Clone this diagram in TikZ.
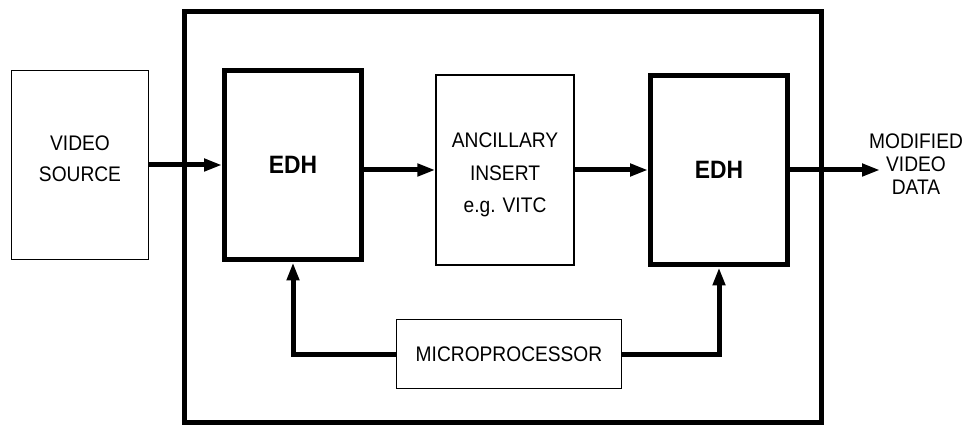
\documentclass[tikz,border=0pt]{standalone}
\usepackage{fontspec}
\setmainfont[FakeStretch=0.91]{Liberation Sans}
\usetikzlibrary{arrows.meta}

\begin{document}
\begin{tikzpicture}[
  x=0.02cm, y=-0.02cm,
  plainbox/.style={draw, rectangle, line width=0.8pt},
  boxtext/.style={align=center, font=\fontsize{12}{17.6}\selectfont},
  edhbox/.style={draw, rectangle, line width=0.1cm, minimum width=2.74cm, minimum height=3.8cm, font=\fontsize{14.3}{16}\selectfont\bfseries},
  flow/.style={line width=0.1cm, -{Triangle[length=0.36cm, width=0.24cm]}}
]
\useasboundingbox (0,0) rectangle (966,425);
\draw[line width=0.1cm] (184,12) rectangle (821,422);
\node[plainbox, minimum width=2.74cm, minimum height=3.78cm,
  label={[boxtext, yshift=0.12cm]center:{VIDEO\\SOURCE}}] (source) at (80,165) {};
\node[edhbox] (edhin) at (293,165) {EDH};
\node[plainbox, minimum width=2.76cm, minimum height=3.8cm,
  label={[boxtext, font=\fontsize{12}{18.4}\selectfont, yshift=-0.1cm]center:{ANCILLARY\\INSERT\\e.g. VITC}}] (insert) at (505,170) {};
\node[edhbox] (edhout) at (719,170) {EDH};
\node[plainbox, boxtext, minimum width=4.5cm, minimum height=1.38cm] (micro) at (509,354) {MICROPROCESSOR};
\node[align=center, font=\fontsize{12}{13}\selectfont] (result) at (916,164) {MODIFIED\\VIDEO\\DATA};
\coordinate (resultin) at (880,170);
\draw[flow] (source.east) -- (edhin.west);
\draw[flow] (insert.west -| edhin.east) -- (insert.west);
\draw[flow] (insert.east) -- (edhout.west);
\draw[flow] (edhout.east) -- (resultin);
\draw[flow] (micro.west) -| (edhin.south);
\draw[flow] (micro.east) -| (edhout.south);
\end{tikzpicture}
\end{document}
